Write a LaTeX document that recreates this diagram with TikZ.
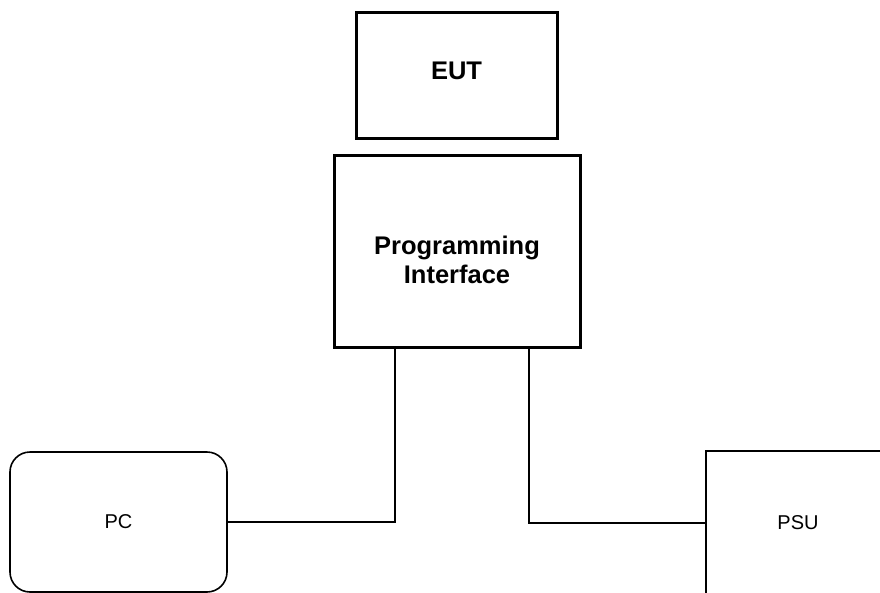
\documentclass[tikz,border=0pt]{standalone}
\usepackage{fontspec}
\setmainfont{Liberation Sans}
\usetikzlibrary{calc}
\begin{document}
\begin{tikzpicture}[x=1pt,y=-1pt,
  thickbox/.style={draw=black,line width=3pt,inner sep=0pt,font=\fontsize{25.5}{29}\selectfont\bfseries,align=center},
  thinbox/.style={draw=black,line width=1.6pt,inner sep=0pt,font=\fontsize{20}{24}\selectfont},
  wire/.style={draw=black,line width=1.6pt}]
\useasboundingbox (0,0) rectangle (880,592);
\begin{scope}
\clip (0,0) rectangle (880,592);
\node[thickbox,minimum width=201pt,minimum height=126pt,text height=18.5pt,text depth=9pt] (EUT) at (456.5,75) {EUT};
\node[thickbox,minimum width=246pt,minimum height=192pt,text height=64pt,text depth=0pt] (PI) at (457,251) {Programming\\Interface};
\node[thinbox,rounded corners=20pt,minimum width=217pt,minimum height=140pt] (PC) at (118.5,522) {PC};
\node[thinbox,minimum width=184pt,minimum height=144pt] (PSU) at (798,523) {PSU};
\draw[wire] (PC.east) -| ($(PI.south west)!0.252!(PI.south east)$);
\draw[wire] (PSU.west) -| ($(PI.south west)!0.789!(PI.south east)$);
\end{scope}
\end{tikzpicture}
\end{document}
